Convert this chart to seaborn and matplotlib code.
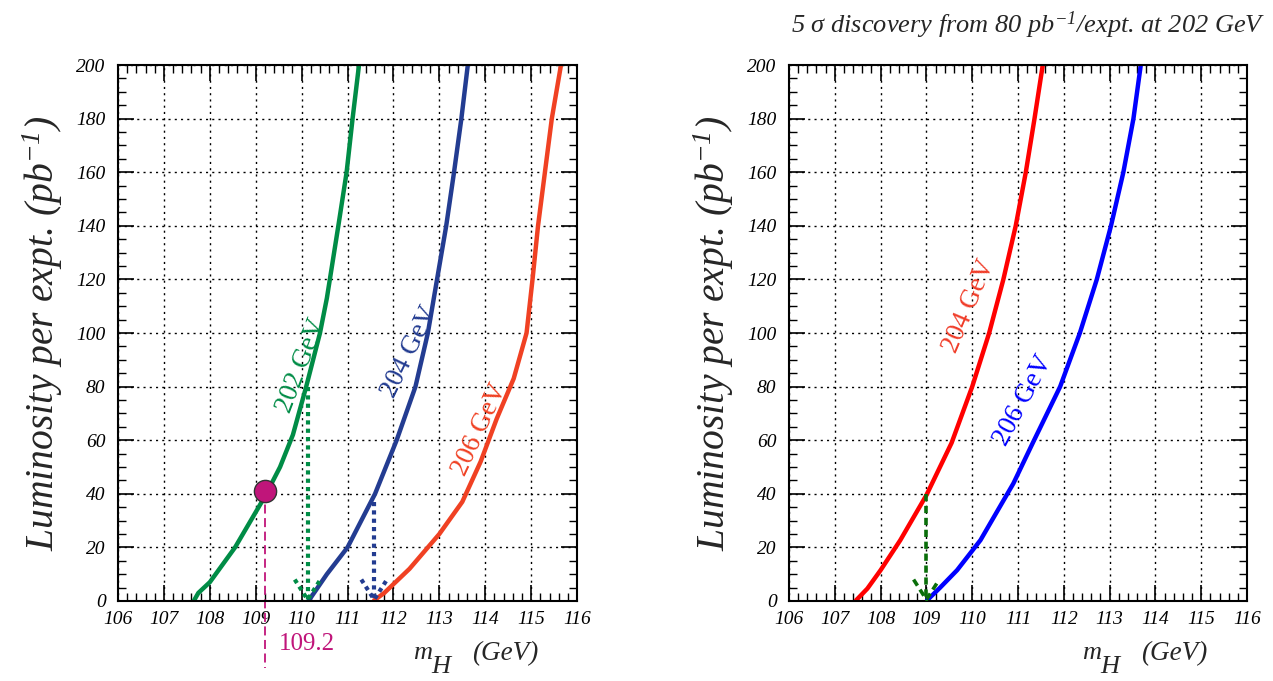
import pandas as pd
import seaborn as sns
import matplotlib.pyplot as plt

# 5 sigma discovery curves
# left panel: 202 / 204 / 206 GeV
mh_202 = [107.65, 107.75, 108.0, 108.55, 109.2, 109.53, 109.81, 110.1, 110.4, 110.55, 110.8, 110.98, 111.11, 111.25]
lumi_202 = [0, 3, 7, 20, 39, 50, 62, 80, 100, 113, 140, 160, 180, 200]
mh_204 = [110.15, 110.55, 111.0, 111.6, 112.07, 112.48, 112.75, 112.95, 113.15, 113.32, 113.48, 113.62]
lumi_204 = [0, 10, 20, 40, 60, 80, 100, 120, 140, 160, 180, 200]
mh_206 = [111.56, 111.8, 112.35, 113.0, 113.5, 113.9, 114.25, 114.62, 114.9, 115.03, 115.15, 115.3, 115.45, 115.65]
lumi_206 = [0, 3, 12, 25, 37, 52, 68, 83, 100, 120, 140, 160, 180, 200]

# right panel: 204 / 206 GeV after 80 pb-1 at 202 GeV
mh_204r = [107.45, 107.71, 108.0, 108.43, 109.0, 109.55, 110.0, 110.37, 110.68, 110.95, 111.17, 111.36, 111.54]
lumi_204r = [0, 4.6, 11.5, 22.7, 39.5, 59, 80, 100, 120, 140, 160, 180, 200]
mh_206r = [109.0, 109.3, 109.67, 110.18, 110.9, 111.32, 111.92, 112.35, 112.72, 113.03, 113.3, 113.52, 113.68]
lumi_206r = [0, 5, 11.5, 22.7, 43.9, 58.9, 80, 100, 120, 140, 160, 180, 200]

# reach markers (mass, lumi where the arrow starts)
arrow_202 = (110.13, 80)
arrow_204 = (111.58, 37)
arrow_right = (109.0, 40)
point_mass, point_lumi = 109.2, 41

x_ticks = list(range(106, 117))
y_ticks = list(range(0, 201, 20))

sns.set_style("ticks")
plt.rcParams['font.family'] = ['Liberation Serif', 'DejaVu Serif']
plt.rcParams['font.style'] = 'italic'
plt.rcParams['mathtext.fontset'] = 'custom'
plt.rcParams['mathtext.rm'] = 'Liberation Serif'
plt.rcParams['mathtext.it'] = 'Liberation Serif:italic'

c_green = '#008C46'
c_navy = '#233C91'
c_orange = '#F04123'
c_red = '#FF0000'
c_blue = '#0000FF'
c_dkgreen = '#0A6E0A'
c_mag = '#C0157A'

fig = plt.figure(figsize=(12.73, 6.81), dpi=100)
ax1 = fig.add_axes([0.0927, 0.1175, 0.3606, 0.787])
ax2 = fig.add_axes([0.6198, 0.1175, 0.3598, 0.787])


def style_axes(ax):
    ax.set_xlim(106, 116)
    ax.set_ylim(0, 200)
    ax.set_xticks(x_ticks)
    ax.set_yticks(y_ticks)
    ax.set_xticks([106 + 0.2 * i for i in range(51)], minor=True)
    ax.set_yticks(list(range(0, 201, 5)), minor=True)
    ax.grid(True, which='major', color='black', linestyle=(0, (1.5, 3)), linewidth=1.0)
    ax.tick_params(which='both', direction='in', top=True, right=True, colors='black',
                   labelsize=14)
    ax.tick_params(which='major', length=11.5, width=1.2)
    ax.tick_params(which='minor', length=6, width=1.0)
    ax.tick_params(axis='y', pad=9)
    ax.tick_params(axis='x', pad=7)
    for s in ax.spines.values():
        s.set_linewidth(1.5)
        s.set_color('black')
    ax.set_xlabel('')
    ax.set_ylabel('Luminosity per expt. (pb$^{-1}$)', fontsize=28.5, labelpad=8)


def curve(ax, x, y, color):
    df = pd.DataFrame({'mH': x, 'lumi': y})
    sns.lineplot(data=df, x='mH', y='lumi', color=color, lw=3.2, sort=False,
                 estimator=None, ax=ax, solid_capstyle='butt', solid_joinstyle='round')


def arrow(ax, pos, color, ls, lw, dx):
    m, l = pos
    ax.plot([m, m], [l, 0.5], color=color, ls=ls, lw=lw, zorder=3)
    ax.plot([m - dx, m, m + dx], [8, 0.5, 8], color=color, ls=ls, lw=lw, zorder=3)


curve(ax1, mh_202, lumi_202, c_green)
curve(ax1, mh_204, lumi_204, c_navy)
curve(ax1, mh_206, lumi_206, c_orange)
arrow(ax1, arrow_202, c_green, (0, (1, 1)), 3, 0.28)
arrow(ax1, arrow_204, c_navy, (0, (1, 1)), 3, 0.28)

# 41 pb-1 point and its projection onto the mass axis
ax1.plot([point_mass, point_mass], [point_lumi, -25], color=c_mag, lw=1.3,
         ls=(0, (5, 2.5)), clip_on=False, zorder=2)
ax1.plot([point_mass], [point_lumi], 'o', ms=16, mfc=c_mag, mec='#333333', mew=1, zorder=5)
ax1.annotate(f'{point_mass}', xy=(point_mass, 0), xycoords='data', xytext=(10, -31),
             textcoords='offset points', color=c_mag, fontsize=18, style='normal',
             ha='left', va='center', annotation_clip=False)

ax1.text(109.99, 88, '202 GeV', color=c_green, rotation=69, fontsize=19.5, style='normal',
         ha='center', va='center')
ax1.text(112.35, 93, '204 GeV', color=c_navy, rotation=64, fontsize=19.5, style='normal',
         ha='center', va='center')
ax1.text(113.88, 64, '206 GeV', color=c_orange, rotation=65, fontsize=19.5, style='normal',
         ha='center', va='center')

curve(ax2, mh_204r, lumi_204r, c_red)
curve(ax2, mh_206r, lumi_206r, c_blue)
arrow(ax2, arrow_right, c_dkgreen, (0, (2, 1.3)), 2.6, 0.28)
ax2.text(109.93, 110, '204 GeV', color='#F03C28', rotation=67, fontsize=19.5, style='normal',
         ha='center', va='center')
ax2.text(111.12, 75, '206 GeV', color=c_blue, rotation=62, fontsize=19.5, style='normal',
         ha='center', va='center')

for ax in (ax1, ax2):
    style_axes(ax)

# x axis titles: m with a large subscript H
for x0 in (423, 1092):
    fig.text(x0 / 1273, 1 - 653 / 681, 'm', fontsize=19, ha='center', va='center')
    fig.text((x0 + 18) / 1273, 1 - 667 / 681, 'H', fontsize=19, ha='center', va='center')
    fig.text((x0 + 82) / 1273, 1 - 654 / 681, '(GeV)', fontsize=19.5, ha='center', va='center')

fig.text(1265 / 1273, 1 - 25 / 681,
         r'5 $\mathrm{\sigma}$ discovery from 80 pb$^{-1}$/expt. at 202 GeV',
         fontsize=19, ha='right', va='center')

fig.savefig('out.png', dpi=100)
